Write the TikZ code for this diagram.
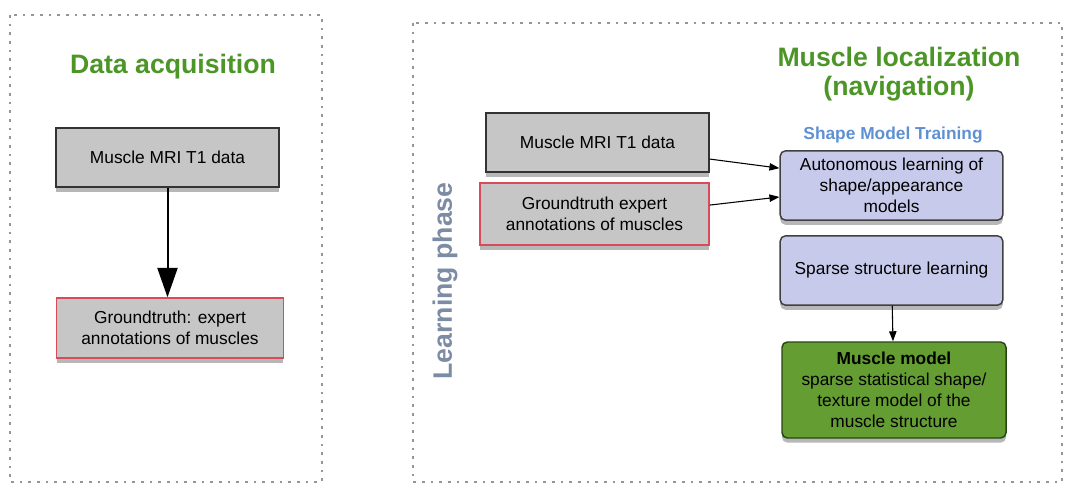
\documentclass[tikz,border=0pt]{standalone}
\usepackage{fontspec}
\setmainfont{Liberation Sans}
\usetikzlibrary{arrows.meta,shadows}
\definecolor{titlegreen}{RGB}{76,150,40}
\definecolor{phasegray}{RGB}{125,140,165}
\definecolor{trainblue}{RGB}{95,145,210}
\definecolor{boxgray}{RGB}{198,198,198}
\definecolor{gtred}{RGB}{215,75,90}
\definecolor{lavender}{RGB}{200,202,235}
\definecolor{modelgreen}{RGB}{100,158,50}
\definecolor{modeldark}{RGB}{40,70,20}
\definecolor{framegray}{RGB}{150,150,150}
\tikzset{
  panel/.style={draw=framegray,line width=1.2pt,dash pattern=on 2pt off 4.5pt},
  title/.style={text=titlegreen,font=\fontsize{20}{22}\selectfont\bfseries,align=center},
  boxshadow/.style={drop shadow={shadow xshift=0pt,shadow yshift=-3.5pt,opacity=.4,fill=black!70}},
  databox/.style={draw=black!80,fill=boxgray,line width=1.1pt,inner sep=0pt,
    font=\fontsize{13}{15.75}\selectfont,align=center,boxshadow},
  truthbox/.style={databox,draw=gtred},
  stepbox/.style={databox,fill=lavender,draw=black!75,rounded corners=4pt},
  modelbox/.style={databox,fill=modelgreen,draw=modeldark,rounded corners=4pt},
  bigarrow/.style={line width=1.5pt,-{Triangle[length=22pt,width=15pt]}},
  smallarrow/.style={line width=.8pt,-{Triangle[length=7.5pt,width=5.5pt]}}
}
\begin{document}
\begin{tikzpicture}[x=0.75pt,y=-0.75pt]
  \useasboundingbox (0,0) rectangle (1066,490);
  % frames
  \draw[panel] (10,15) rectangle (322,482);
  \draw[panel] (413,23) rectangle (1062,482);
  % data acquisition
  \node[title] (acqtitle) at (173,67) {Data acquisition};
  \node[databox,minimum width=167pt,minimum height=44pt] (a1) at (167.5,157.5) {Muscle MRI T1 data};
  \node[truthbox,minimum width=170pt,minimum height=45pt] (a2) at (170,328) {Groundtruth: expert\\annotations of muscles};
  \draw[bigarrow] (a1.south) -- (a1.south |- a2.north);
  % muscle localization
  \node[title] (loctitle) at (899,74) {Muscle localization\\(navigation)};
  \node[rotate=90,text=phasegray,font=\fontsize{20}{22}\selectfont\bfseries] (phase) at (445,281) {Learning phase};
  \node[text=trainblue,font=\fontsize{13}{15}\selectfont\bfseries] (training) at (893,135) {Shape Model Training};
  \node[databox,minimum width=167pt,minimum height=44pt] (b1) at (597.5,142.5) {Muscle MRI T1 data};
  \node[truthbox,minimum width=172pt,minimum height=46.5pt] (b2) at (594.5,214) {Groundtruth expert\\annotations of muscles};
  \node[stepbox,minimum width=167pt,minimum height=52pt] (c1) at (891.5,185.5) {Autonomous learning of\\shape/appearance\\models};
  \node[stepbox,minimum width=167pt,minimum height=52pt] (c2) at (891.5,270.5) {Sparse structure learning};
  \node[modelbox,minimum width=168pt,minimum height=72pt] (c3) at (894,390) {\textbf{Muscle model}\\sparse statistical shape/\\texture model of the\\muscle structure};
  \begin{scope}[smallarrow]
    \draw ([yshift=-12.4pt]b1.east) -- ([yshift=13pt]c1.west);
    \draw ([yshift=6.7pt]b2.east) -- ([yshift=-8.6pt]c1.west);
    \draw (c2) -- (c3);
  \end{scope}
\end{tikzpicture}
\end{document}
